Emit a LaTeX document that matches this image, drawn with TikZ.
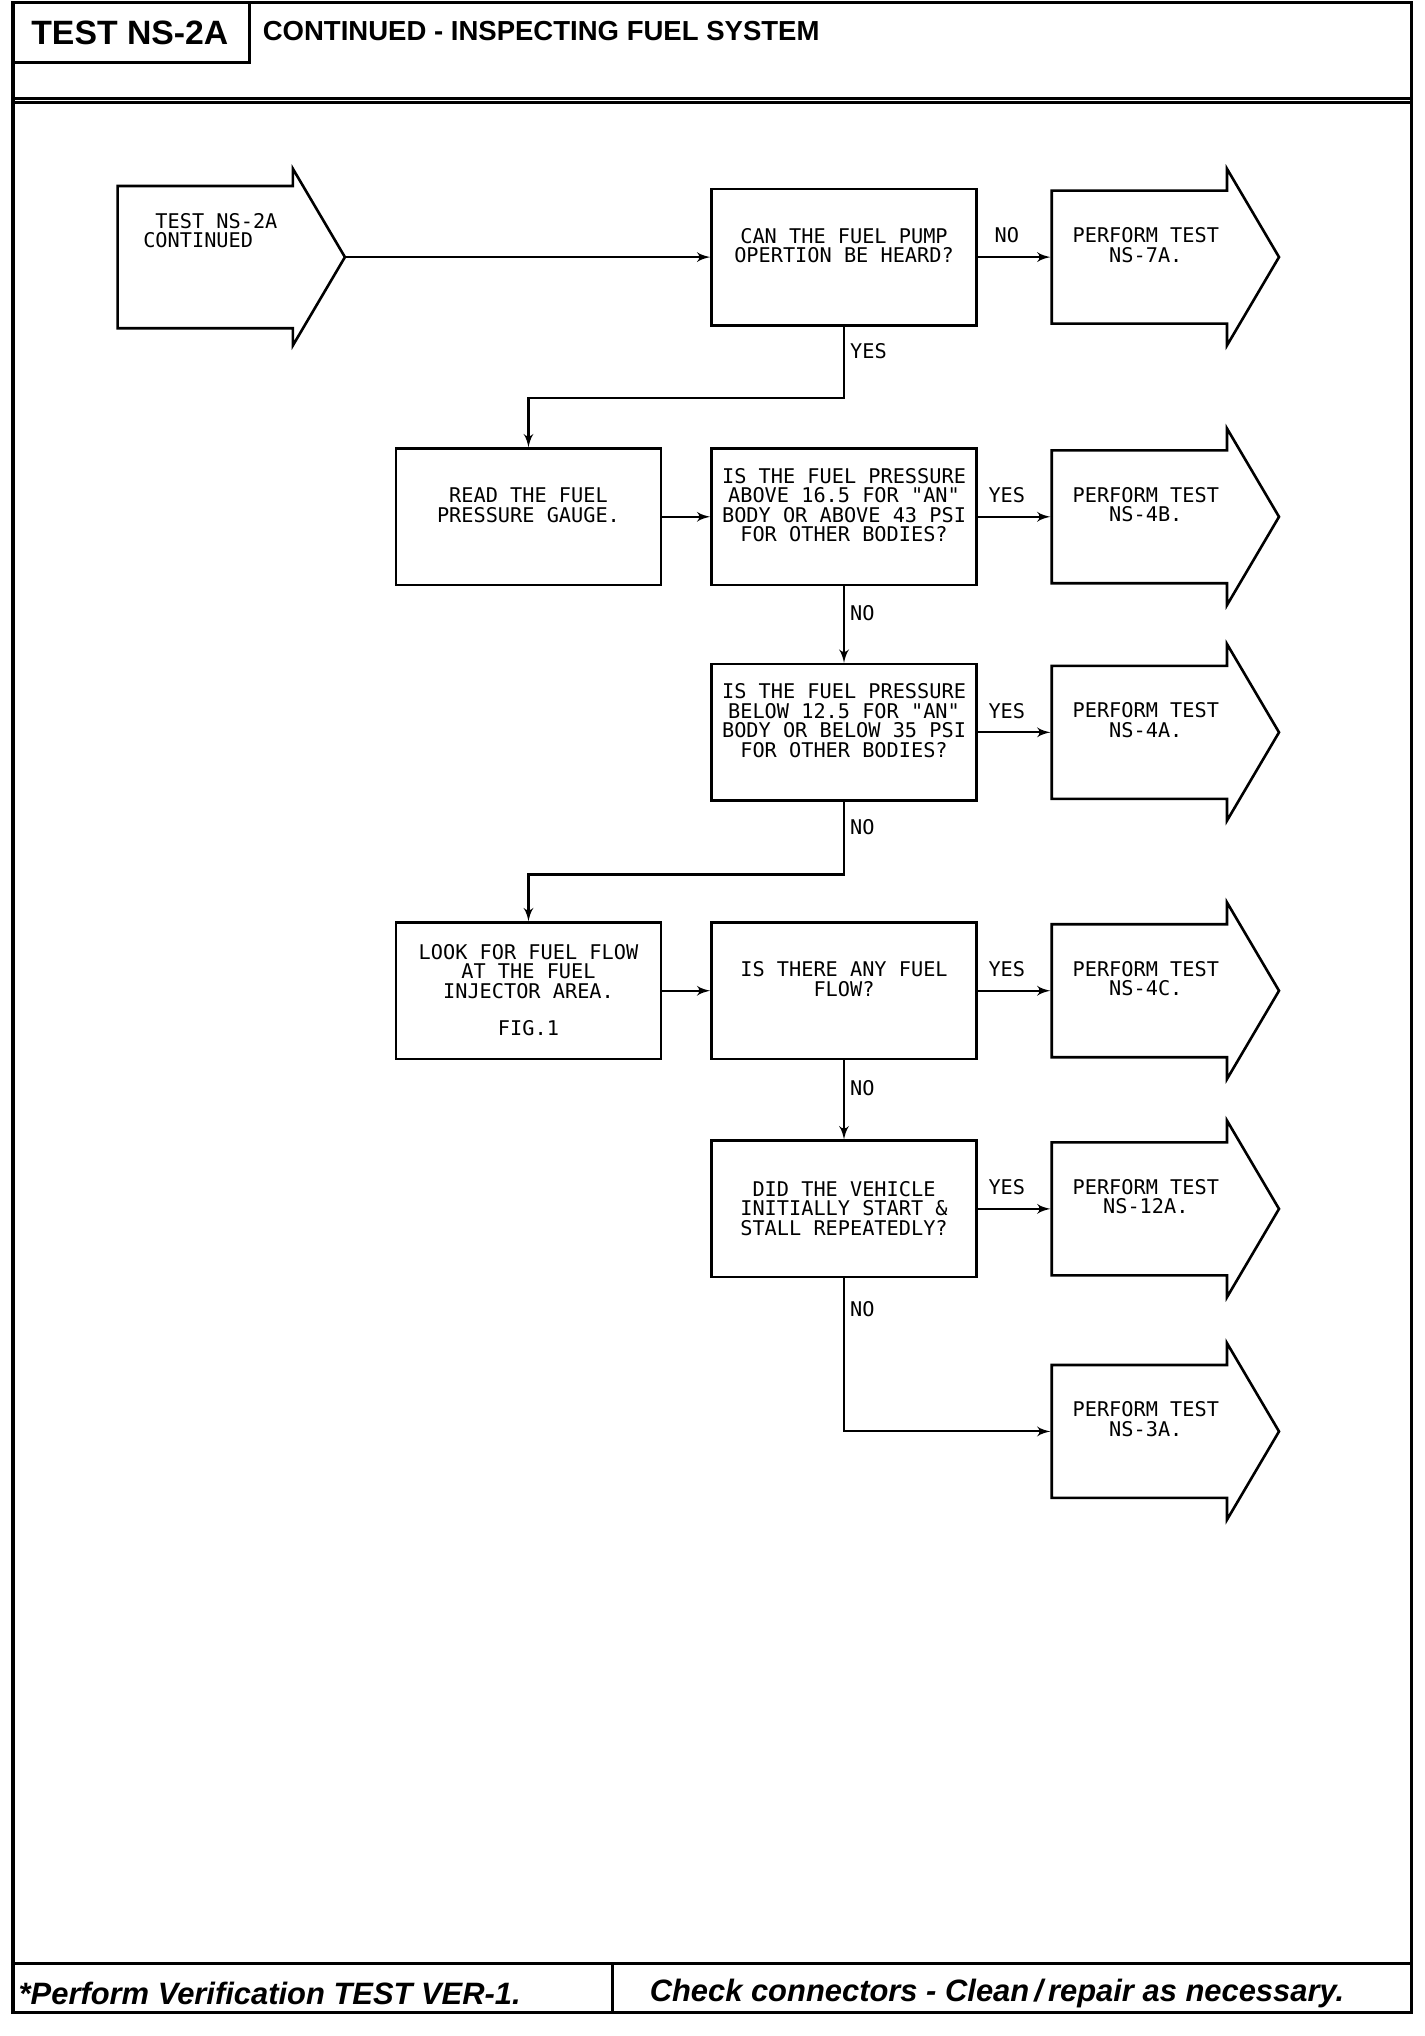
\documentclass[tikz,border=0pt]{standalone}
\usepackage{fontspec}
\usepackage{tikz}
\usetikzlibrary{shapes.arrows, arrows, positioning, calc}
\newfontfamily\plotfont{DejaVu Sans Mono}
\newfontfamily\headfont{Liberation Sans}
\tikzstyle{qbox} = [draw, rectangle, line width=1pt, minimum width=102pt, minimum height=52.5pt, align=center, inner sep=2pt, text depth=9pt, font=\plotfont\fontsize{7.8}{7.5}\selectfont]
\tikzstyle{testarrow} = [draw, single arrow, line width=1pt, minimum height=87.5pt, minimum width=68pt, single arrow head extend=5pt, single arrow tip angle=119, align=center, text depth=9.5pt, font=\plotfont\fontsize{7.8}{7.5}\selectfont]
\tikzstyle{arrow} = [draw, -latex', line width=0.8pt]
\tikzstyle{lbl} = [inner sep=2pt, font=\plotfont\fontsize{7.8}{7.5}\selectfont]
\tikzstyle{frame} = [draw, line width=1.2pt]

\begin{document}
\begin{tikzpicture}[x=0.5pt, y=-0.5pt, >=latex']
    \useasboundingbox (0,0) rectangle (1097,1568);
    % page frame
    \draw[frame] (10,2) rectangle (1087,1550);
    \draw[frame] (10,2) rectangle (192,48);
    \draw[frame] (10,76) -- (1087,76);
    \draw[frame] (10,79) -- (1087,79);
    \draw[frame] (10,1512) -- (1087,1512);
    \draw[frame] (472,1512) -- (472,1550);
    \node[font=\headfont\bfseries\fontsize{13}{15}\selectfont] (testid) at (100,25) {TEST NS-2A};
    \node[anchor=west, inner sep=0pt, font=\headfont\bfseries\fontsize{10.6}{13}\selectfont] (title) at (202,24) {CONTINUED - INSPECTING FUEL SYSTEM};
    \node[anchor=west, inner sep=0pt, font=\headfont\bfseries\itshape\fontsize{11.9}{14}\selectfont] (verify) at (14,1535) {*Perform Verification TEST VER-1.};
    \node[anchor=west, inner sep=0pt, font=\headfont\bfseries\itshape\fontsize{11.9}{14}\selectfont] (connectors) at (500,1535) {Check connectors - Clean\,/\,repair as necessary.};

    % flow chart
    \node[testarrow, align=left, text depth=20.5pt] (start) at (162,198) {\hphantom{X}TEST NS-2A\\CONTINUED};
    \node[qbox] (pump) at (650,198) {CAN THE FUEL PUMP\\OPERTION BE HEARD?};
    \node[testarrow, right=28pt of pump] (ns7a) {PERFORM TEST\\NS-7A.};
    \node[qbox, below=46.5pt of pump] (hipress) {IS THE FUEL PRESSURE\\ABOVE 16.5 FOR "AN"\\BODY OR ABOVE 43 PSI\\FOR OTHER BODIES?};
    \node[qbox, left=18.5pt of hipress] (read) {READ THE FUEL\\PRESSURE GAUGE.};
    \node[testarrow, right=28pt of hipress] (ns4b) {PERFORM TEST\\NS-4B.};
    \node[qbox, below=29.5pt of hipress] (lopress) {IS THE FUEL PRESSURE\\BELOW 12.5 FOR "AN"\\BODY OR BELOW 35 PSI\\FOR OTHER BODIES?};
    \node[testarrow, right=28pt of lopress] (ns4a) {PERFORM TEST\\NS-4A.};
    \node[qbox, below=46pt of lopress] (flow) {IS THERE ANY FUEL\\FLOW?};
    \node[qbox, left=18.5pt of flow, text depth=0.5pt] (look) {LOOK FOR FUEL FLOW\\AT THE FUEL\\INJECTOR AREA.\\[7pt]FIG.1};
    \node[testarrow, right=28pt of flow] (ns4c) {PERFORM TEST\\NS-4C.};
    \node[qbox, below=30.5pt of flow, text depth=0.5pt] (stall) {DID THE VEHICLE\\INITIALLY START \&\\STALL REPEATEDLY?};
    \node[testarrow, right=28pt of stall] (ns12a) {PERFORM TEST\\NS-12A.};
    \node[testarrow, below=33.5pt of ns12a] (ns3a) {PERFORM TEST\\NS-3A.};

    \draw[arrow] (start.tip) -- (pump);
    \draw[arrow] (pump) -- node[lbl, above=3pt, pos=0.4] (no1) {NO} (ns7a);
    \draw[arrow] (pump.south) -- node[lbl, right, pos=0.35] (yes1) {YES} ++(0,-27.5pt) -| (read.north);
    \draw[arrow] (read) -- (hipress);
    \draw[arrow] (hipress) -- node[lbl, above=3pt, pos=0.4] (yes2) {YES} (ns4b);
    \draw[arrow] (hipress) -- node[lbl, right, pos=0.35] (no2) {NO} (lopress);
    \draw[arrow] (lopress) -- node[lbl, above=3pt, pos=0.4] (yes3) {YES} (ns4a);
    \draw[arrow] (lopress.south) -- node[lbl, right, pos=0.35] (no3) {NO} ++(0,-28pt) -| (look.north);
    \draw[arrow] (look) -- (flow);
    \draw[arrow] (flow) -- node[lbl, above=3pt, pos=0.4] (yes4) {YES} (ns4c);
    \draw[arrow] (flow) -- node[lbl, right, pos=0.35] (no4) {NO} (stall);
    \draw[arrow] (stall) -- node[lbl, above=3pt, pos=0.4] (yes5) {YES} (ns12a);
    \draw[arrow] (stall.south) |- node[lbl, right, pos=0.1] (no5) {NO} (ns3a.tail);
\end{tikzpicture}
\end{document}
